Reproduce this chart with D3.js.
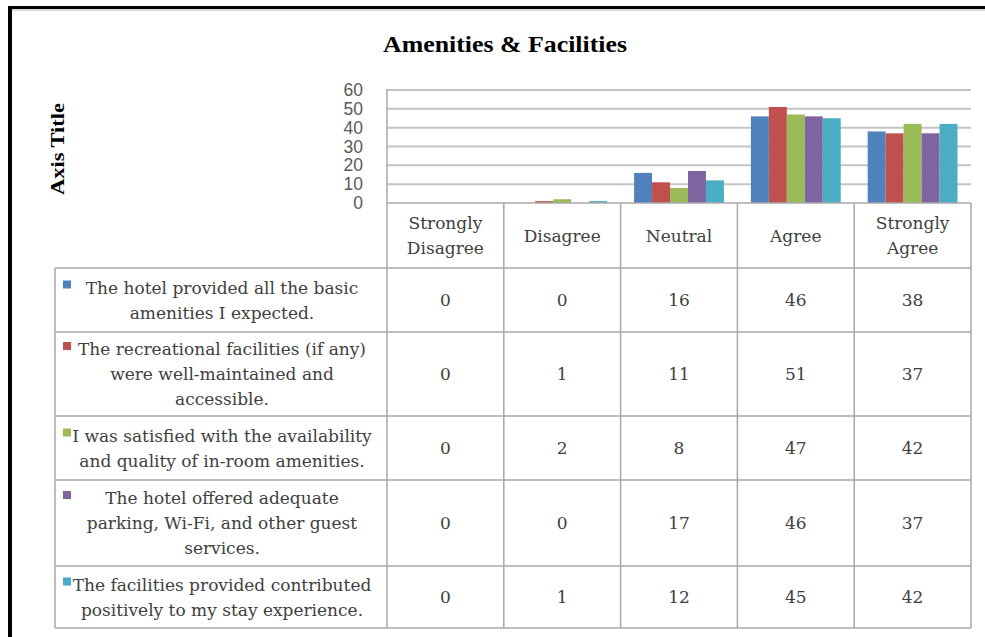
<!DOCTYPE html>
<html>
<head>
<meta charset="utf-8">
<script src="https://cdn.jsdelivr.net/npm/d3@7"></script>
<style>
  html, body { margin: 0; padding: 0; background: #fff; }
  svg { display: block; }
</style>
</head>
<body>
<svg id="chart" width="985" height="637"></svg>
<script>
// ---------------- DATA ----------------
const chartTitle = "Amenities & Facilities";
const axisTitle = "Axis Title";
const categories = ["Strongly Disagree", "Disagree", "Neutral", "Agree", "Strongly Agree"];
const categoryLines = [["Strongly", "Disagree"], ["Disagree"], ["Neutral"], ["Agree"], ["Strongly", "Agree"]];
const seriesNames = [
  "The hotel provided all the basic amenities I expected.",
  "The recreational facilities (if any) were well-maintained and accessible.",
  "I was satisfied with the availability and quality of in-room amenities.",
  "The hotel offered adequate parking, Wi-Fi, and other guest services.",
  "The facilities provided contributed positively to my stay experience."
];
const seriesLines = [
  ["The hotel provided all the basic", "amenities I expected."],
  ["The recreational facilities (if any)", "were well-maintained and", "accessible."],
  ["I was satisfied with the availability", "and quality of in-room amenities."],
  ["The hotel offered adequate", "parking, Wi-Fi, and other guest", "services."],
  ["The facilities provided contributed", "positively to my stay experience."]
];
const series1 = [0, 0, 16, 46, 38];
const series2 = [0, 1, 11, 51, 37];
const series3 = [0, 2, 8, 47, 42];
const series4 = [0, 0, 17, 46, 37];
const series5 = [0, 1, 12, 45, 42];
const seriesValues = [series1, series2, series3, series4, series5];
const seriesColors = ["#4F81BD", "#C0504D", "#9BBB59", "#8064A2", "#4BACC6"];
const yTicks = [0, 10, 20, 30, 40, 50, 60];

// ---------------- LAYOUT ----------------
const svg = d3.select("#chart");
const plotLeft = 387, plotRight = 971, plotTop = 90, plotBottom = 203;
const tableLeft = 55;
const headerBottom = 268;
const rowBounds = [268, 332, 416, 480, 566, 628];
const textColor = "#404040";
const gridColor = "#c4c4c4";
const tableColor = "#a8a8a8";
const serif = "'Liberation Serif', 'Times New Roman', serif";
const bodySerif = "'DejaVu Serif', serif";
const bodySize = 17;

const x = d3.scaleBand().domain(categories).range([plotLeft, plotRight]).paddingInner(0).paddingOuter(0);
const xs = d3.scaleBand().domain(d3.range(seriesNames.length)).range([0, x.bandwidth()]).paddingInner(0).paddingOuter(0.75);
const y = d3.scaleLinear().domain([0, 60]).range([plotBottom, plotTop]);

// outer frame
svg.append("line").attr("x1", 8).attr("x2", 985).attr("y1", 7.5).attr("y2", 7.5)
  .attr("stroke", "#000").attr("stroke-width", 3);
svg.append("line").attr("x1", 8).attr("x2", 985).attr("y1", 10).attr("y2", 10)
  .attr("stroke", "#bbb").attr("stroke-width", 1);
svg.append("line").attr("x1", 10).attr("x2", 10).attr("y1", 6).attr("y2", 637)
  .attr("stroke", "#000").attr("stroke-width", 4);

// title
svg.append("text").attr("x", 505).attr("y", 52).attr("text-anchor", "middle")
  .attr("font-family", serif).attr("font-weight", "bold").attr("font-size", 23)
  .attr("textLength", 244).attr("lengthAdjust", "spacingAndGlyphs")
  .attr("fill", "#000").text(chartTitle);

// axis title
svg.append("text").attr("transform", "translate(64,149) rotate(-90)").attr("text-anchor", "middle")
  .attr("font-family", serif).attr("font-weight", "bold").attr("font-size", 19)
  .attr("textLength", 92).attr("lengthAdjust", "spacingAndGlyphs")
  .attr("fill", "#000").text(axisTitle);

// gridlines
svg.append("g").selectAll("line").data(yTicks.filter(t => t > 0)).join("line")
  .attr("x1", plotLeft).attr("x2", plotRight)
  .attr("y1", d => y(d)).attr("y2", d => y(d))
  .attr("stroke", gridColor).attr("stroke-width", 2);

// y axis labels
const yAxis = svg.append("g").attr("transform", `translate(${plotLeft},0)`)
  .call(d3.axisLeft(y).tickValues(yTicks).tickSize(0).tickPadding(24));
yAxis.select(".domain").remove();
yAxis.selectAll("text").attr("font-family", "'Liberation Sans', Arial, sans-serif")
  .attr("font-size", 17.5).attr("fill", "#595959");

// bars
const groups = svg.append("g").selectAll("g").data(seriesValues).join("g")
  .attr("fill", (d, i) => seriesColors[i]);
groups.each(function (vals, si) {
  d3.select(this).selectAll("rect").data(vals).join("rect")
    .attr("x", (v, ci) => x(categories[ci]) + xs(si))
    .attr("width", xs.bandwidth())
    .attr("y", v => y(v))
    .attr("height", v => y(0) - y(v));
});

// ---------------- DATA TABLE ----------------
const tbl = svg.append("g").attr("stroke", tableColor).attr("stroke-width", 1.5).attr("fill", "none");
tbl.append("line").attr("x1", plotLeft).attr("x2", plotRight).attr("y1", plotBottom).attr("y2", plotBottom);
tbl.append("line").attr("x1", plotLeft).attr("x2", plotLeft).attr("y1", plotTop - 1).attr("y2", rowBounds[rowBounds.length - 1]);
categories.forEach(c => {
  const xr = x(c) + x.bandwidth();
  tbl.append("line").attr("x1", xr).attr("x2", xr).attr("y1", plotBottom).attr("y2", rowBounds[rowBounds.length - 1]);
});
rowBounds.forEach(rb => {
  tbl.append("line").attr("x1", tableLeft).attr("x2", plotRight).attr("y1", rb).attr("y2", rb);
});
tbl.append("line").attr("x1", tableLeft).attr("x2", tableLeft).attr("y1", rowBounds[0]).attr("y2", rowBounds[rowBounds.length - 1]);

// header labels
const lineH = 25;
categories.forEach((c, ci) => {
  const lines = categoryLines[ci];
  const cy = (plotBottom + headerBottom) / 2;
  const t = svg.append("text").attr("text-anchor", "middle")
    .attr("font-family", bodySerif).attr("font-size", bodySize).attr("fill", textColor);
  lines.forEach((ln, li) => {
    t.append("tspan").attr("x", x(c) + x.bandwidth() / 2)
      .attr("y", cy + (li - (lines.length - 1) / 2) * lineH + 6).text(ln);
  });
});

// legend rows + values
seriesNames.forEach((name, si) => {
  const top = rowBounds[si], bot = rowBounds[si + 1];
  const cy = (top + bot) / 2;
  const lines = seriesLines[si];
  const firstY = cy - (lines.length - 1) / 2 * lineH;
  svg.append("rect").attr("x", 63).attr("y", firstY - 7).attr("width", 8).attr("height", 8)
    .attr("fill", seriesColors[si]);
  const t = svg.append("text").attr("text-anchor", "middle")
    .attr("font-family", bodySerif).attr("font-size", bodySize).attr("fill", textColor);
  lines.forEach((ln, li) => {
    t.append("tspan").attr("x", 222).attr("y", firstY + li * lineH + 6).text(ln);
  });
  seriesValues[si].forEach((v, ci) => {
    svg.append("text").attr("x", x(categories[ci]) + x.bandwidth() / 2).attr("y", cy + 6)
      .attr("text-anchor", "middle").attr("font-family", bodySerif).attr("font-size", bodySize)
      .attr("fill", textColor).text(v);
  });
});
</script>
</body>
</html>
